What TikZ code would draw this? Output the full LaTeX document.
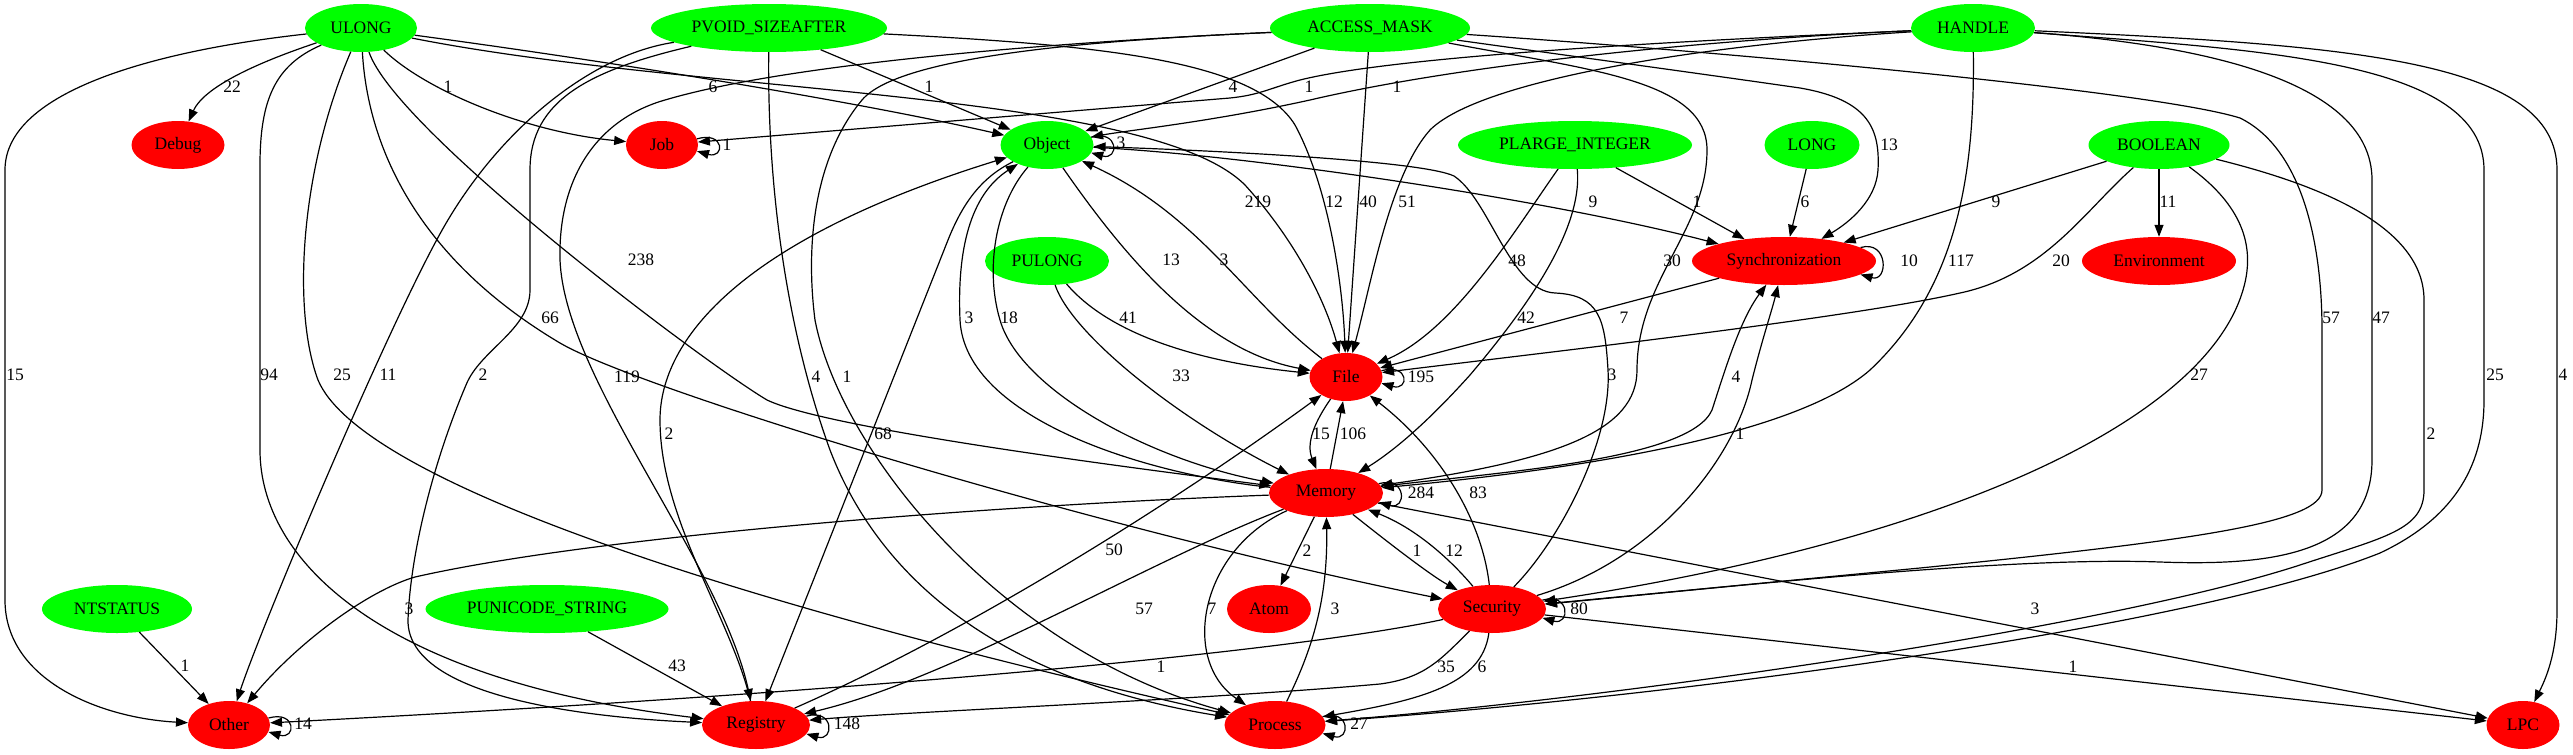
\documentclass[tikz,border=0pt]{standalone}
\usepackage{fontspec}
\setmainfont{Liberation Serif}
\usetikzlibrary{shapes.geometric,arrows.meta}
\definecolor{gn}{RGB}{0,255,0}
\definecolor{rdd}{RGB}{255,0,0}
\newcommand\fsz{\fontsize{17.5}{20}\selectfont}
\tikzset{
  nd/.style={ellipse, inner sep=0pt, minimum height=48pt, font=\fsz},
  gnode/.style={nd, fill=gn},
  rnode/.style={nd, fill=rdd},
  e/.style={line width=1.2pt, -{Triangle[length=12pt,width=9pt]}},
  lb/.style={inner sep=0pt, font=\fsz},
  selfloop/.style={e}
}
\begin{document}
\begin{tikzpicture}[x=1pt,y=1pt]
\useasboundingbox (0,0) rectangle (2573,-755);
\fill[white] (0,0) rectangle (2573,-755);
% nodes
\node[gnode, minimum width=112pt] (ULONG) at (361,-28) {ULONG};
\node[gnode, minimum width=236pt] (PVOID) at (769,-28) {PVOID\_SIZEAFTER};
\node[gnode, minimum width=200pt] (ACCESS) at (1370,-28) {ACCESS\_MASK};
\node[gnode, minimum width=124pt] (HANDLE) at (1973,-28) {HANDLE};
\node[rnode, minimum width=93pt] (Debug) at (178,-145) {Debug};
\node[rnode, minimum width=72pt] (Job) at (662,-145) {Job};
\node[gnode, minimum width=93pt] (Object) at (1047,-145) {Object};
\node[gnode, minimum width=234pt] (PLARGE) at (1575,-145) {PLARGE\_INTEGER};
\node[gnode, minimum width=95pt] (LONG) at (1812,-145) {LONG};
\node[gnode, minimum width=141pt] (BOOLEAN) at (2159,-145) {BOOLEAN};
\node[gnode, minimum width=124pt] (PULONG) at (1047,-261) {PULONG};
\node[rnode, minimum width=184pt] (Sync) at (1784,-261) {Synchronization};
\node[rnode, minimum width=154pt] (Env) at (2159,-261) {Environment};
\node[rnode, minimum width=73pt] (File) at (1346,-377) {File};
\node[rnode, minimum width=114pt] (Memory) at (1326,-493) {Memory};
\node[gnode, minimum width=150pt] (NTSTATUS) at (117,-609) {NTSTATUS};
\node[gnode, minimum width=243pt] (PUNICODE) at (547,-609) {PUNICODE\_STRING};
\node[rnode, minimum width=84pt] (Atom) at (1269,-609) {Atom};
\node[rnode, minimum width=108pt] (Security) at (1492,-609) {Security};
\node[rnode, minimum width=82pt] (Other) at (229,-725) {Other};
\node[rnode, minimum width=108pt] (Registry) at (756,-725) {Registry};
\node[rnode, minimum width=101pt] (Process) at (1275,-725) {Process};
\node[rnode, minimum width=73pt] (LPC) at (2523,-725) {LPC};

% ULONG
\draw[e] (ULONG) .. controls (265,-60) and (205,-85) .. (Debug);
\draw[e] (ULONG) .. controls (425,-90) and (525,-132) .. (Job);
\draw[e] (ULONG) .. controls (600,-60) and (850,-100) .. (Object);
\draw[e] (ULONG) .. controls (700,-95) and (1150,-90) .. (1245,-185) .. controls (1295,-240) and (1325,-300) .. (File);
\draw[e] (ULONG) .. controls (395,-130) and (700,-360) .. (767,-400) .. controls (830,-430) and (1150,-470) .. (Memory);
\draw[e] (ULONG) .. controls (368,-150) and (420,-260) .. (560,-343) .. controls (640,-390) and (1100,-530) .. (Security);
\draw[e] (ULONG) .. controls (160,-50) and (5,-90) .. (5,-170) -- (5,-600) .. controls (5,-680) and (100,-718) .. (Other);
\draw[e] (ULONG) .. controls (275,-65) and (260,-100) .. (260,-165) -- (260,-450) .. controls (260,-560) and (380,-680) .. (Registry);
\draw[e] (ULONG) .. controls (300,-170) and (292,-310) .. (318,-380) .. controls (360,-480) and (720,-600) .. (Process);
% PVOID
\draw[e] (PVOID) -- (Object);
\draw[e] (PVOID) .. controls (1100,-45) and (1255,-60) .. (1295,-125) .. controls (1330,-190) and (1343,-290) .. (File);
\draw[e] (PVOID) .. controls (590,-55) and (500,-130) .. (445,-225) .. controls (390,-320) and (260,-630) .. (Other);
\draw[e] (PVOID) .. controls (590,-70) and (530,-100) .. (530,-170) -- (530,-290) .. controls (530,-330) and (480,-350) .. (466,-385) .. controls (430,-470) and (410,-560) .. (408,-620) .. controls (407,-700) and (600,-718) .. (Registry);
\draw[e] (PVOID) .. controls (767,-200) and (790,-340) .. (830,-450) .. controls (880,-580) and (1000,-680) .. (Process);
% ACCESS_MASK
\draw[e] (ACCESS) -- (Object);
\draw[e] (ACCESS) -- (File);
\draw[e] (ACCESS) .. controls (1600,-60) and (1710,-75) .. (1800,-88) .. controls (1870,-100) and (1880,-130) .. (1878,-170) .. controls (1876,-200) and (1850,-222) .. (Sync);
\draw[e] (ACCESS) .. controls (1590,-70) and (1707,-80) .. (1707,-150) .. controls (1707,-230) and (1637,-280) .. (1637,-370) .. controls (1637,-430) and (1560,-460) .. (Memory);
\draw[e] (ACCESS) .. controls (1100,-40) and (900,-55) .. (862,-100) .. controls (812,-160) and (806,-250) .. (815,-320) .. controls (840,-450) and (1000,-650) .. (Process);
\draw[e] (ACCESS) .. controls (1100,-40) and (800,-60) .. (665,-100) .. controls (595,-120) and (558,-180) .. (560,-260) .. controls (565,-380) and (720,-560) .. (Registry);
\draw[e] (ACCESS) .. controls (1700,-50) and (2150,-90) .. (2240,-118) .. controls (2305,-150) and (2322,-250) .. (2322,-330) -- (2322,-490) .. controls (2322,-522) and (2200,-540) .. (1920,-568) -- (Security);
% HANDLE
\draw[e] (HANDLE) .. controls (1700,-40) and (1400,-55) .. (1300,-80) .. controls (1270,-88) and (1260,-95) .. (1230,-98) -- (Job);
\draw[e] (HANDLE) .. controls (1700,-40) and (1460,-65) .. (1310,-100) .. controls (1210,-122) and (1130,-130) .. (Object);
\draw[e] (HANDLE) .. controls (1700,-45) and (1480,-80) .. (1430,-130) .. controls (1390,-175) and (1372,-280) .. (File);
\draw[e] (HANDLE) .. controls (1975,-180) and (1955,-290) .. (1870,-370) .. controls (1790,-440) and (1550,-472) .. (Memory);
\draw[e] (HANDLE) .. controls (2200,-45) and (2372,-80) .. (2372,-180) -- (2372,-460) .. controls (2372,-555) and (2270,-566) .. (2160,-562) .. controls (2000,-556) and (1700,-590) .. (Security);
\draw[e] (HANDLE) .. controls (2260,-50) and (2484,-60) .. (2484,-170) -- (2484,-400) .. controls (2484,-470) and (2450,-520) .. (2380,-553) .. controls (2200,-625) and (1700,-695) .. (Process);
\draw[e] (HANDLE) .. controls (2350,-45) and (2557,-60) .. (2557,-170) -- (2557,-610) .. controls (2557,-655) and (2545,-680) .. (LPC);
% PLARGE, LONG, BOOLEAN, PULONG
\draw[e] (PLARGE) .. controls (1515,-230) and (1455,-330) .. (File);
\draw[e] (PLARGE) .. controls (1583,-230) and (1525,-310) .. (1470,-375) .. controls (1425,-425) and (1392,-452) .. (Memory);
\draw[e] (PLARGE) -- (Sync);
\draw[e] (LONG) -- (Sync);
\draw[e] (BOOLEAN) -- (Sync);
\draw[e] (BOOLEAN) .. controls (2085,-210) and (2045,-275) .. (1960,-293) .. controls (1850,-318) and (1550,-352) .. (File);
\draw[e] (BOOLEAN) -- (Env);
\draw[e] (BOOLEAN) .. controls (2235,-200) and (2258,-240) .. (2243,-290) .. controls (2205,-420) and (1950,-540) .. (Security);
\draw[e] (BOOLEAN) .. controls (2300,-180) and (2424,-220) .. (2424,-300) -- (2424,-490) .. controls (2424,-530) and (2385,-537) .. (2300,-565) .. controls (2100,-630) and (1600,-700) .. (Process);
\draw[e] (PULONG) .. controls (1110,-335) and (1200,-362) .. (File);
\draw[e] (PULONG) .. controls (1072,-335) and (1180,-420) .. (Memory);
\draw[e] (NTSTATUS) -- (Other);
\draw[e] (PUNICODE) -- (Registry);
% Object
\draw[e] (Object) .. controls (1250,-155) and (1550,-200) .. (Sync);
\draw[e] (Object) .. controls (1120,-250) and (1200,-350) .. (File);
\draw[e] (Object) .. controls (995,-205) and (985,-270) .. (1000,-320) .. controls (1020,-390) and (1150,-460) .. (Memory);
\draw[e] (Object) .. controls (980,-178) and (962,-205) .. (948,-240) -- (Registry);
\draw[e] (Object.10) .. controls +(28,8) and +(28,-8) .. (Object.-10);
% File
\draw[e] (File) .. controls (1245,-300) and (1200,-215) .. (Object);
\draw[e] (File.-125) to[out=-125,in=112] (Memory.112);
\draw[e] (File.10) .. controls +(28,8) and +(28,-8) .. (File.-10);
% Memory
\draw[e] (Memory.80) -- (File.-97);
\draw[e] (Memory) .. controls (1150,-475) and (965,-420) .. (960,-320) .. controls (957,-250) and (970,-195) .. (Object);
\draw[e] (Memory) -- (Atom);
\draw[e] (Memory) .. controls (1385,-540) and (1430,-575) .. (Security);
\draw[e] (Memory) .. controls (1200,-550) and (1180,-660) .. (Process);
\draw[e] (Memory) .. controls (1150,-560) and (950,-680) .. (Registry);
\draw[e] (Memory) .. controls (1000,-505) and (600,-535) .. (415,-577) .. controls (370,-590) and (300,-640) .. (Other);
\draw[e] (Memory) -- (LPC);
\draw[e] (Memory) .. controls (1500,-472) and (1690,-460) .. (1712,-410) .. controls (1725,-370) and (1740,-320) .. (Sync);
\draw[e] (Memory.10) .. controls +(28,8) and +(28,-8) .. (Memory.-10);
% Security
\draw[e] (Security) .. controls (1455,-565) and (1420,-530) .. (Memory);
\draw[e] (Security) .. controls (1482,-520) and (1440,-450) .. (File);
\draw[e] (Security) .. controls (1560,-540) and (1612,-440) .. (1608,-370) .. controls (1605,-320) and (1600,-295) .. (1555,-293) .. controls (1510,-291) and (1490,-200) .. (1454,-176) .. controls (1420,-160) and (1200,-150) .. (Object);
\draw[e] (Security) .. controls (1655,-560) and (1735,-460) .. (1752,-380) .. controls (1762,-340) and (1772,-310) .. (Sync);
\draw[e] (Security) .. controls (1300,-650) and (900,-690) .. (Other);
\draw[e] (Security) .. controls (1440,-660) and (1425,-678) .. (1380,-684) .. controls (1200,-700) and (900,-712) .. (Registry);
\draw[e] (Security) .. controls (1482,-685) and (1420,-700) .. (Process);
\draw[e] (Security) -- (LPC);
\draw[e] (Security.10) .. controls +(28,8) and +(28,-8) .. (Security.-10);
% Registry, Process, Sync, Job, Other
\draw[e] (Registry) .. controls (732,-620) and (660,-520) .. (660,-420) .. controls (660,-340) and (740,-240) .. (Object);
\draw[e] (Registry) .. controls (950,-640) and (1150,-520) .. (File);
\draw[e] (Registry.10) .. controls +(28,8) and +(28,-8) .. (Registry.-10);
\draw[e] (Process) .. controls (1312,-650) and (1328,-600) .. (Memory);
\draw[e] (Process.10) .. controls +(28,8) and +(28,-8) .. (Process.-10);
\draw[e] (Sync) -- (File);
\draw[e] (Sync.10) .. controls +(28,8) and +(28,-8) .. (Sync.-10);
\draw[e] (Job.10) .. controls +(28,8) and +(28,-8) .. (Job.-10);
\draw[e] (Other.10) .. controls +(28,8) and +(28,-8) .. (Other.-10);

% labels
\foreach \t/\x/\y in {22/232/87, 1/448/87, 6/713/87, 1/929/87, 4/1233/87, 1/1309/87, 1/1397/87,
  3/1121/143, 1/727/145, 13/1889/145,
  219/1258/202, 12/1334/202, 40/1368/202, 51/1407/202, 9/1593/202, 1/1697/202, 6/1805/202, 9/1996/202, 11/2168/202,
  238/641/260, 13/1171/260, 3/1224/260, 48/1517/261, 30/1672/261, 10/1909/261, 117/1961/261, 20/2061/261,
  66/550/318, 3/969/318, 18/1009/318, 41/1128/318, 42/1526/318, 7/1624/318, 57/2331/318, 47/2381/318,
  15/15/375, 94/269/375, 25/342/375, 11/388/375, 2/483/375, 119/627/377, 4/816/377, 1/847/377, 33/1181/376,
  195/1421/377, 3/1612/375, 4/1736/377, 27/2199/375, 25/2495/375, 4/2563/375,
  2/669/434, 68/883/434, 15/1321/434, 106/1353/434, 1/1740/434, 2/2431/434,
  284/1421/493, 83/1478/493, 50/1114/550, 2/1307/551, 1/1417/551, 12/1454/551,
  3/409/609, 57/1144/609, 7/1212/609, 3/1335/609, 80/1579/609, 3/2035/609,
  1/185/666, 43/677/666, 1/1161/667, 35/1446/667, 6/1482/667, 1/2073/667,
  14/303/724, 148/847/724, 27/1359/724}
  \node[lb] at (\x,-\y) {\t};
\end{tikzpicture}
\end{document}
